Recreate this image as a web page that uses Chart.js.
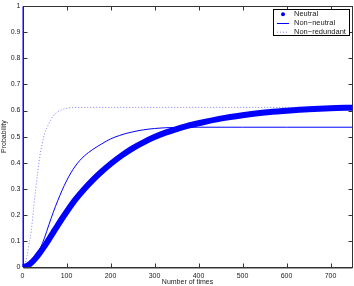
<!DOCTYPE html>
<html>
<head>
<meta charset="utf-8">
<script src="https://cdn.jsdelivr.net/npm/chart.js@4"></script>
<style>
  html, body { margin: 0; padding: 0; background: #fff; }
  #wrap { width: 354px; height: 286px; }
</style>
</head>
<body>
<div id="wrap"><canvas id="probChart"></canvas></div>
<script>
// Values
const xTicks = [0, 100, 200, 300, 400, 500, 600, 700];
const yTicks = [0, 0.1, 0.2, 0.3, 0.4, 0.5, 0.6, 0.7, 0.8, 0.9, 1];

const neutralT = [0, 10, 20, 30, 40, 50, 60, 70, 80, 90, 100, 120, 140, 160, 180, 200, 225, 250, 275, 300, 325, 350, 375, 400, 450, 500, 550, 600, 650, 700, 750];
const neutralP = [0, 0.004, 0.016, 0.034, 0.056, 0.08, 0.106, 0.133, 0.16, 0.186, 0.211, 0.258, 0.298, 0.334, 0.366, 0.395, 0.427, 0.455, 0.478, 0.498, 0.515, 0.529, 0.541, 0.551, 0.569, 0.582, 0.592, 0.599, 0.605, 0.609, 0.611];

const nonNeutralT = [0, 10, 20, 30, 40, 50, 60, 70, 80, 90, 100, 110, 120, 130, 140, 150, 160, 170, 180, 190, 200, 210, 220, 235, 250, 275, 300, 325, 350, 400, 500, 600, 750];
const nonNeutralP = [0, 0.004, 0.016, 0.036, 0.07, 0.112, 0.162, 0.21, 0.254, 0.294, 0.33, 0.361, 0.387, 0.408, 0.425, 0.439, 0.451, 0.462, 0.472, 0.482, 0.491, 0.498, 0.504, 0.512, 0.518, 0.526, 0.531, 0.534, 0.535, 0.536, 0.536, 0.536, 0.536];

const nonRedundantT = [0, 5, 10, 15, 20, 25, 30, 35, 40, 45, 50, 60, 70, 80, 90, 100, 120, 200, 400, 750];
const nonRedundantP = [0, 0.01, 0.04, 0.09, 0.14, 0.22, 0.3, 0.37, 0.43, 0.475, 0.51, 0.55, 0.58, 0.595, 0.603, 0.608, 0.612, 0.612, 0.612, 0.612];

// vertical blue stroke along t = 0
const startLineT = [0, 0];
const startLineP = [0, 1];

const legendNames = ['Neutral', 'Non\u2212neutral', 'Non\u2212redundant'];

const toPoints = (ts, ps) => ts.map((t, i) => ({ x: t, y: ps[i] }));

const BLUE = '#0000ff';
const DOTTED = 'rgba(40,40,255,0.6)';
const FONT = 'Liberation Sans, Arial, Helvetica, sans-serif';

// axes box with inward ticks on all four sides
const framePlugin = {
  id: 'frame',
  beforeDatasetsDraw(chart) {
    const { ctx, chartArea: a, scales } = chart;
    const L = Math.round(a.left) + 0.5, R = Math.round(a.right) - 0.5;
    const T = Math.round(a.top) + 0.5, B = Math.round(a.bottom) + 0.5;
    ctx.save();
    ctx.strokeStyle = '#333';
    ctx.lineWidth = 1;
    ctx.strokeRect(L, T, R - L, B - T);
    ctx.beginPath();
    xTicks.forEach(v => {
      const x = Math.round(scales.x.getPixelForValue(v)) + 0.5;
      ctx.moveTo(x, B); ctx.lineTo(x, B - 4);
      ctx.moveTo(x, T); ctx.lineTo(x, T + 4);
    });
    yTicks.forEach(v => {
      const y = Math.round(scales.y.getPixelForValue(v)) + 0.5;
      ctx.moveTo(L, y); ctx.lineTo(L + 4, y);
      ctx.moveTo(R, y); ctx.lineTo(R - 4, y);
    });
    ctx.stroke();
    // bottom axis reads a bit heavier in the original
    ctx.strokeStyle = 'rgba(90,90,90,0.6)';
    ctx.beginPath();
    ctx.moveTo(L, B + 1); ctx.lineTo(R, B + 1);
    ctx.stroke();
    ctx.restore();
  }
};

// boxed legend in the top right corner
const legendPlugin = {
  id: 'boxLegend',
  afterDraw(chart) {
    const ctx = chart.ctx;
    const bx = 273.5, by = 9.5, bw = 76, bh = 26;
    const rows = [14.3, 23, 31.7];
    ctx.save();
    ctx.fillStyle = '#fff';
    ctx.fillRect(bx, by, bw, bh);
    ctx.strokeStyle = '#000';
    ctx.lineWidth = 1;
    ctx.strokeRect(bx, by, bw, bh);

    // Neutral: dot marker
    ctx.fillStyle = BLUE;
    ctx.beginPath();
    ctx.arc(283, rows[0], 2, 0, Math.PI * 2);
    ctx.fill();

    // Non-neutral: solid line
    ctx.strokeStyle = BLUE;
    ctx.beginPath();
    ctx.moveTo(277, rows[1] + 0.5); ctx.lineTo(289, rows[1] + 0.5);
    ctx.stroke();

    // Non-redundant: dotted line
    ctx.strokeStyle = DOTTED;
    ctx.setLineDash([1, 2]);
    ctx.beginPath();
    ctx.moveTo(277, rows[2] + 0.5); ctx.lineTo(289, rows[2] + 0.5);
    ctx.stroke();
    ctx.setLineDash([]);

    ctx.fillStyle = '#222';
    ctx.font = '7.5px ' + FONT;
    ctx.textBaseline = 'middle';
    legendNames.forEach((name, i) => ctx.fillText(name, 294, rows[i]));
    ctx.restore();
  }
};

new Chart(document.getElementById('probChart'), {
  type: 'scatter',
  data: {
    datasets: [
      {
        label: legendNames[0],
        data: toPoints(neutralT, neutralP),
        showLine: true,
        borderColor: BLUE,
        backgroundColor: BLUE,
        borderWidth: 6,
        borderCapStyle: 'round',
        borderJoinStyle: 'round',
        cubicInterpolationMode: 'monotone',
        pointRadius: 0,
        order: 3,
      },
      {
        label: legendNames[1],
        data: toPoints(nonNeutralT, nonNeutralP),
        showLine: true,
        borderColor: BLUE,
        borderWidth: 1,
        cubicInterpolationMode: 'monotone',
        pointRadius: 0,
        order: 2,
      },
      {
        label: legendNames[2],
        data: toPoints(nonRedundantT, nonRedundantP),
        showLine: true,
        borderColor: DOTTED,
        borderWidth: 1,
        borderDash: [1, 2],
        cubicInterpolationMode: 'monotone',
        pointRadius: 0,
        order: 1,
      },
      {
        label: 'start',
        data: toPoints(startLineT, startLineP),
        showLine: true,
        borderColor: BLUE,
        borderWidth: 2,
        pointRadius: 0,
        order: 0,
      },
    ],
  },
  options: {
    animation: false,
    responsive: true,
    maintainAspectRatio: false,
    layout: { padding: { top: 5, right: 1.5, left: 0, bottom: 0 } },
    plugins: {
      legend: { display: false },
      tooltip: { enabled: false },
    },
    scales: {
      x: {
        type: 'linear',
        min: 0,
        max: 750,
        grid: { display: false, drawTicks: false },
        border: { display: false },
        ticks: { font: { size: 7, family: FONT }, color: '#222', padding: 5, maxRotation: 0 },
        title: { display: true, text: 'Number of times', font: { size: 7, family: FONT }, color: '#222', padding: 0 },
        afterBuildTicks: s => { s.ticks = xTicks.map(v => ({ value: v })); },
        afterFit: s => { s.height = 19; },
      },
      y: {
        min: 0,
        max: 1,
        grid: { display: false, drawTicks: false },
        border: { display: false },
        ticks: {
          font: { size: 7, family: FONT }, color: '#222', padding: 2,
          callback: v => String(+v.toFixed(1)),
        },
        title: { display: true, text: 'Probability', font: { size: 7, family: FONT }, color: '#222', padding: 0 },
        afterBuildTicks: s => { s.ticks = yTicks.map(v => ({ value: v })); },
        afterFit: s => { s.width = 22.5; },
      },
    },
  },
  plugins: [framePlugin, legendPlugin],
});
</script>
</body>
</html>
